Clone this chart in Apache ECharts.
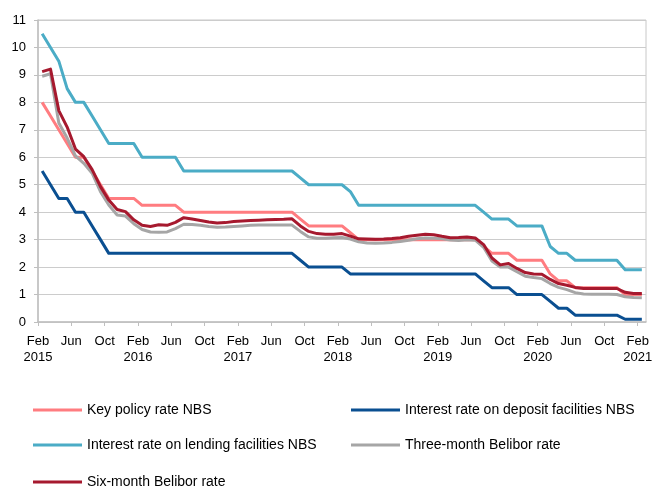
<!DOCTYPE html>
<html>
<head>
<meta charset="utf-8">
<script src="https://cdn.jsdelivr.net/npm/echarts@6/dist/echarts.min.js"></script>
<style>
  html, body { margin: 0; padding: 0; background: #fff; }
  #chart { width: 657px; height: 490px; }
</style>
</head>
<body>
<div id="chart"></div>
<script>
// Monthly observations, Feb 2015 .. Feb 2021 (73 months), in percent
const keyPolicyRate = [
  8.0, 7.5, 7.0, 6.5, 6.0, 6.0, 5.5, 5.0, 4.5, 4.5, 4.5, 4.5,
  4.25, 4.25, 4.25, 4.25, 4.25,
  4.0, 4.0, 4.0, 4.0, 4.0, 4.0, 4.0, 4.0, 4.0, 4.0, 4.0, 4.0, 4.0, 4.0,
  3.75, 3.5, 3.5, 3.5, 3.5, 3.5, 3.25,
  3.0, 3.0, 3.0, 3.0, 3.0, 3.0, 3.0, 3.0, 3.0, 3.0, 3.0, 3.0, 3.0, 3.0, 3.0,
  2.75, 2.5, 2.5, 2.5, 2.25, 2.25, 2.25, 2.25,
  1.75, 1.5, 1.5, 1.25, 1.25, 1.25, 1.25, 1.25, 1.25, 1.0, 1.0, 1.0
];
const depositRate = [
  5.5, 5.0, 4.5, 4.5, 4.0, 4.0, 3.5, 3.0,
  2.5, 2.5, 2.5, 2.5, 2.5, 2.5, 2.5, 2.5, 2.5, 2.5, 2.5, 2.5, 2.5, 2.5, 2.5,
  2.5, 2.5, 2.5, 2.5, 2.5, 2.5, 2.5, 2.5,
  2.25, 2.0, 2.0, 2.0, 2.0, 2.0,
  1.75, 1.75, 1.75, 1.75, 1.75, 1.75, 1.75, 1.75, 1.75, 1.75, 1.75, 1.75, 1.75, 1.75, 1.75, 1.75,
  1.5, 1.25, 1.25, 1.25, 1.0, 1.0, 1.0, 1.0,
  0.75, 0.5, 0.5, 0.25, 0.25, 0.25, 0.25, 0.25, 0.25, 0.1, 0.1, 0.1
];
const lendingRate = [
  10.5, 10.0, 9.5, 8.5, 8.0, 8.0, 7.5, 7.0, 6.5, 6.5, 6.5, 6.5,
  6.0, 6.0, 6.0, 6.0, 6.0,
  5.5, 5.5, 5.5, 5.5, 5.5, 5.5, 5.5, 5.5, 5.5, 5.5, 5.5, 5.5, 5.5, 5.5,
  5.25, 5.0, 5.0, 5.0, 5.0, 5.0, 4.75,
  4.25, 4.25, 4.25, 4.25, 4.25, 4.25, 4.25, 4.25, 4.25, 4.25, 4.25, 4.25, 4.25, 4.25, 4.25,
  4.0, 3.75, 3.75, 3.75, 3.5, 3.5, 3.5, 3.5,
  2.75, 2.5, 2.5, 2.25, 2.25, 2.25, 2.25, 2.25, 2.25, 1.9, 1.9, 1.9
];
const belibor3m = [
  8.95, 9.04, 7.25, 6.7, 6.05, 5.78, 5.42, 4.75, 4.26, 3.9, 3.86, 3.58,
  3.37, 3.28, 3.27, 3.28, 3.4, 3.56, 3.55, 3.52, 3.48, 3.45, 3.46, 3.48,
  3.5, 3.52, 3.53, 3.53, 3.53, 3.53, 3.53, 3.3, 3.1, 3.05, 3.05, 3.07,
  3.08, 3.02, 2.92, 2.88, 2.87, 2.88, 2.9, 2.93, 2.98, 3.03, 3.06, 3.05,
  3.03, 2.99, 2.97, 3.0, 2.98, 2.72, 2.22, 2.0, 2.0, 1.83, 1.67, 1.62,
  1.58, 1.4, 1.26, 1.18, 1.07, 1.02, 1.01, 1.01, 1.01, 1.0, 0.92, 0.89, 0.88
];
const belibor6m = [
  9.12, 9.21, 7.7, 7.1, 6.3, 6.02, 5.55, 4.93, 4.44, 4.1, 4.02, 3.72,
  3.52, 3.48, 3.54, 3.52, 3.63, 3.8, 3.75, 3.7, 3.64, 3.61, 3.62, 3.66,
  3.68, 3.7, 3.71, 3.72, 3.73, 3.74, 3.76, 3.5, 3.3, 3.22, 3.2, 3.2,
  3.22, 3.13, 3.03, 3.02, 3.01, 3.02, 3.04, 3.07, 3.12, 3.16, 3.2, 3.18,
  3.12, 3.07, 3.08, 3.1, 3.06, 2.82, 2.33, 2.08, 2.13, 1.95, 1.8, 1.75,
  1.74, 1.55, 1.4, 1.34, 1.26, 1.22, 1.22, 1.22, 1.22, 1.22, 1.08, 1.04, 1.04
];

// Axis tick labels, one every four months starting at Feb 2015
const tickLabels = [
  'Feb\n2015', 'Jun', 'Oct', 'Feb\n2016', 'Jun', 'Oct', 'Feb\n2017', 'Jun', 'Oct',
  'Feb\n2018', 'Jun', 'Oct', 'Feb\n2019', 'Jun', 'Oct', 'Feb\n2020', 'Jun', 'Oct', 'Feb\n2021'
];
const seriesNames = [
  'Key policy rate NBS',
  'Interest rate on deposit facilities NBS',
  'Interest rate on lending facilities NBS',
  'Three-month Belibor rate',
  'Six-month Belibor rate'
];
const seriesValues = [keyPolicyRate, depositRate, lendingRate, belibor3m, belibor6m];
const seriesColors = ['#FF7C80', '#0A4F91', '#4BACC6', '#A6A6A6', '#A6192E'];

const MONTHS_PER_TICK = 4;
const tickValues = tickLabels.map((_, k) => k * MONTHS_PER_TICK);

// each month occupies one unit; points sit in the middle of their month
const toPoints = vals => vals.map((v, i) => [i + 0.5, v]);

// legend placement: two columns, three rows
const legendSlots = [
  { left: 33, top: 403 },
  { left: 351, top: 403 },
  { left: 33, top: 438 },
  { left: 351, top: 438 },
  { left: 33, top: 475 }
];

const font = '"Liberation Sans", Arial, sans-serif';

const chart = echarts.init(document.getElementById('chart'), null, { renderer: 'canvas' });
chart.setOption({
  animation: false,
  backgroundColor: '#fff',
  textStyle: { fontFamily: font },
  grid: {
    left: 38, right: 11, top: 20, bottom: 168,
    show: true, borderColor: '#C8C8C8', borderWidth: 1
  },
  legend: seriesNames.map((name, k) => ({
    data: [name],
    left: legendSlots[k].left,
    top: legendSlots[k].top,
    padding: 0,
    icon: 'rect',
    itemWidth: 49,
    itemHeight: 3,
    itemGap: 0,
    textStyle: { fontFamily: font, fontSize: 14, color: '#000', padding: [0, 0, 0, 0] },
    selectedMode: false
  })),
  xAxis: {
    type: 'value',
    min: 0,
    max: tickLabels.length * MONTHS_PER_TICK - MONTHS_PER_TICK + 1,
    axisLine: { show: true, lineStyle: { color: '#BFBFBF', width: 1.5 } },
    axisTick: { show: true, length: 4, lineStyle: { color: '#BFBFBF' }, customValues: tickValues },
    splitLine: { show: false },
    axisLabel: {
      customValues: tickValues,
      formatter: v => tickLabels[Math.round(v / MONTHS_PER_TICK)] || '',
      color: '#000', fontSize: 13, fontFamily: font, lineHeight: 16, margin: 11
    }
  },
  yAxis: {
    type: 'value',
    min: 0, max: 11, interval: 1,
    axisLine: { show: true, lineStyle: { color: '#BFBFBF', width: 1.5 } },
    axisTick: { show: true, length: 4, inside: false, lineStyle: { color: '#BFBFBF' } },
    splitLine: { show: true, lineStyle: { color: '#CCCCCC', width: 1 } },
    axisLabel: { color: '#000', fontSize: 13, fontFamily: font, margin: 12 }
  },
  series: seriesNames.map((name, k) => ({
    name,
    type: 'line',
    data: toPoints(seriesValues[k]),
    showSymbol: false,
    symbol: 'none',
    color: seriesColors[k],
    lineStyle: { color: seriesColors[k], width: 3, join: 'round' },
    z: 2 + k
  }))
});
</script>
</body>
</html>
